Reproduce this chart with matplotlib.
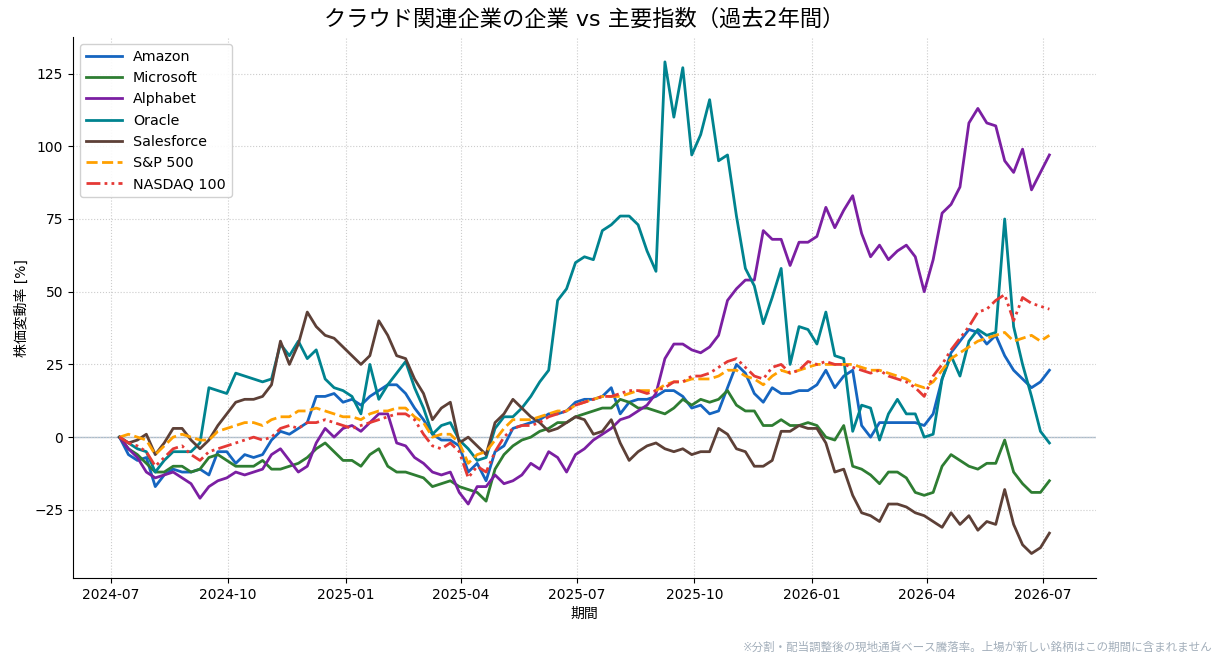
import numpy as np
import pandas as pd
import matplotlib
matplotlib.use("Agg")
import matplotlib.pyplot as plt
import matplotlib.dates as mdates

plt.rcParams['font.family'] = ['DejaVu Sans', 'Noto Sans CJK JP']

# weekly samples (% change since start)
dates = pd.date_range('2024-07-08', periods=105, freq='7D')

amazon = [0, -6, -8, -7, -17, -13, -11, -12, -12, -11, -13, -5, -5, -9, -6, -7, -6, -1, 2, 1, 3, 5, 14, 14, 15, 12,
          13, 11, 14, 16, 18, 18, 15, 10, 6, 1, -1, -1, -3, -12, -9, -15, -5, -3, 3, 4, 5, 6, 8, 8,
          9, 12, 13, 13, 14, 17, 8, 12, 13, 13, 14, 16, 16, 14, 10, 11, 8, 9, 17, 25, 22, 15, 12, 17, 15, 15, 16, 16,
          18, 23, 17, 21, 23, 4, 0, 5, 5, 5, 5, 5, 4, 8, 20, 29, 33, 37, 36, 32, 35, 28, 23, 20, 17, 19, 23]
microsoft = [0, -4, -6, -9, -12, -12, -10, -10, -12, -11, -7, -6, -8, -10, -10, -10, -8, -11, -11, -10, -9, -7, -4, -2, -5, -8,
             -8, -10, -6, -4, -10, -12, -12, -13, -14, -17, -16, -15, -17, -18, -19, -22, -11, -6, -3, -1, 0, 2, 3, 5,
             5, 7, 8, 9, 10, 10, 13, 12, 10, 10, 9, 8, 10, 13, 11, 13, 12, 13, 16, 11, 9, 9, 4, 4, 6, 4, 4, 5,
             4, 0, -1, 4, -10, -11, -13, -16, -12, -12, -14, -19, -20, -19, -10, -6, -8, -10, -11, -9, -9, -1, -12, -16, -19, -19, -15]
alphabet = [0, -4, -7, -12, -14, -13, -12, -14, -16, -21, -17, -15, -14, -12, -13, -12, -11, -6, -4, -8, -12, -10, -2, 3, 0, 3,
            4, 2, 5, 8, 8, -2, -3, -7, -9, -12, -13, -12, -19, -23, -17, -17, -13, -16, -15, -13, -9, -11, -5, -7,
            -12, -6, -4, -1, 1, 3, 6, 7, 9, 11, 15, 27, 32, 32, 30, 29, 31, 35, 47, 51, 54, 54, 71, 68, 68, 59, 67, 67,
            69, 79, 72, 78, 83, 70, 62, 66, 61, 64, 66, 62, 50, 61, 77, 80, 86, 108, 113, 108, 107, 95, 91, 99, 85, 91, 97]
oracle = [0, -2, -4, -5, -12, -8, -5, -5, -5, -2, 17, 16, 15, 22, 21, 20, 19, 20, 32, 28, 33, 27, 30, 20, 17, 16,
          14, 8, 25, 13, 18, 22, 26, 17, 10, 1, 4, 5, -1, -4, -8, -7, 3, 7, 7, 10, 14, 19, 23, 47,
          51, 60, 62, 61, 71, 73, 76, 76, 73, 64, 57, 129, 110, 127, 97, 104, 116, 95, 97, 76, 58, 52, 39, 48, 58, 25, 38, 37,
          32, 43, 28, 27, 2, 11, 10, -1, 8, 13, 8, 8, 0, 1, 20, 28, 21, 33, 37, 35, 36, 75, 38, 25, 14, 2, -2]
salesforce = [0, -2, -1, 1, -6, -2, 3, 3, -1, -4, -1, 4, 8, 12, 13, 13, 14, 18, 33, 25, 32, 43, 38, 35, 34, 31,
              28, 25, 28, 40, 35, 28, 27, 20, 15, 6, 10, 12, -2, 0, -3, -6, 5, 8, 13, 10, 7, 5, 2, 3,
              5, 7, 6, 1, 2, 6, -2, -8, -5, -3, -2, -4, -5, -4, -6, -5, -5, 3, 1, -4, -5, -10, -10, -8, 2, 2, 4, 3,
              3, -2, -12, -11, -20, -26, -27, -29, -23, -23, -24, -26, -27, -29, -31, -26, -30, -27, -32, -29, -30, -18, -30, -37, -40, -38, -33]
sp500 = [0, 1, 0, -1, -6, -3, 0, 1, 0, -1, -1, 2, 3, 4, 5, 5, 4, 6, 7, 7, 9, 9, 10, 9, 8, 7,
         7, 6, 8, 9, 9, 10, 10, 7, 5, 0, 1, 1, -2, -9, -6, -5, -1, 3, 6, 6, 6, 7, 8, 9,
         9, 11, 12, 13, 14, 14, 14, 15, 16, 16, 16, 18, 19, 19, 20, 20, 20, 21, 23, 23, 21, 20, 18, 21, 23, 22, 23, 24,
         25, 25, 25, 25, 25, 24, 23, 23, 22, 21, 20, 18, 17, 19, 23, 27, 29, 31, 33, 34, 35, 36, 33, 34, 35, 33, 35]
nasdaq100 = [0, -2, -3, -5, -10, -7, -4, -3, -6, -8, -5, -4, -3, -2, -1, 0, -1, 0, 3, 4, 3, 5, 5, 6, 5, 4,
             3, 4, 5, 6, 7, 8, 8, 6, 1, -3, -4, -2, -5, -14, -10, -12, -5, 0, 3, 4, 4, 5, 7, 8,
             9, 11, 12, 13, 14, 14, 15, 16, 16, 15, 16, 17, 19, 19, 21, 21, 22, 24, 26, 27, 24, 21, 20, 24, 25, 22, 23, 26,
             25, 26, 25, 25, 24, 23, 22, 23, 21, 20, 19, 17, 14, 21, 25, 30, 34, 38, 43, 44, 47, 49, 40, 48, 46, 45, 44]

stocks = [("Amazon", amazon, "#1565C0"),
          ("Microsoft", microsoft, "#2E7D32"),
          ("Alphabet", alphabet, "#7B1FA2"),
          ("Oracle", oracle, "#00838F"),
          ("Salesforce", salesforce, "#5D4037")]

fig = plt.figure(figsize=(12.25, 6.66), dpi=100)
ax = fig.add_axes([0.0596, 0.132, 0.835, 0.812])

for name, vals, col in stocks:
    ax.plot(dates, vals, color=col, lw=2, label=name)
ax.plot(dates, sp500, color="#FFA000", lw=2, ls=(0, (4, 1.6)), label="S&P 500")
ax.plot(dates, nasdaq100, color="#E53935", lw=2, ls=(0, (5, 1.5, 1, 1.5, 1, 1.5)), label="NASDAQ 100")

ax.axhline(0, color="#a9bccc", lw=1, zorder=0)
ax.grid(True, ls=":", color="#cccccc", lw=0.8)
ax.set_axisbelow(True)
ax.spines['top'].set_visible(False)
ax.spines['right'].set_visible(False)

ax.xaxis.set_major_locator(mdates.MonthLocator(bymonth=[1, 4, 7, 10]))
ax.xaxis.set_major_formatter(mdates.DateFormatter('%Y-%m'))
ax.tick_params(labelsize=10)

ax.set_title("クラウド関連企業の企業 vs 主要指数（過去2年間）", fontsize=16, pad=8)
ax.set_ylabel("株価変動率 [%]", fontsize=10)
ax.set_xlabel("期間", fontsize=10)
ax.legend(loc="upper left", fontsize=10.3, framealpha=0.9, handlelength=2.5)

fig.text(0.99, 0.018, "※分割・配当調整後の現地通貨ベース騰落率。上場が新しい銘柄はこの期間に含まれません",
         ha="right", va="bottom", fontsize=8.3, color="#a3afbb")

fig.savefig("out.png", dpi=100)
